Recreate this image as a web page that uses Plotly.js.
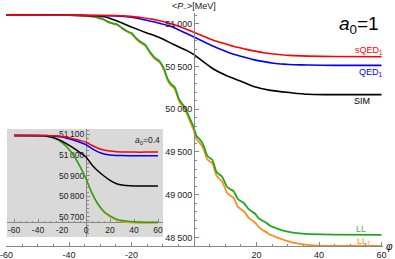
<!DOCTYPE html>
<html><head><meta charset="utf-8">
<script src="https://cdn.plot.ly/plotly-3.0.1.min.js"></script>
<style>html,body{margin:0;padding:0;background:#fff}#g{width:395px;height:259px}</style>
</head><body><div id="g"></div>
<script>
// ---- main plot (a0 = 1) ----
const llX = [-60,-40,-35,-32,-30.5,-29,-27.5,-26,-24.5,-23,-21.5,-20,-18.5,-17,-15.5,-14,-12.5,-11,-9.5,-8.5,-7.5,-6.2,-4.7,-3.5,-2.6,-1.2,-0.2,0.8,2.2,3.0,4.2,5.0,5.9,7.2,8.0,9.0,10.6,11.6,12.7,14.0,15.0,16.0,17.5,18.6,19.5,20.8,22.0,23.0,24.2,25.4,26.5,28,30,33,37,45,60];
const llY = [51100,51099,51094,51082,51068,51052,51022,51005,50990,50950,50915,50890,50830,50785,50750,50665,50600,50560,50465,50360,50300,50260,50110,50050,50000,49880,49800,49690,49630,49580,49460,49430,49405,49265,49240,49210,49090,49065,49040,48950,48925,48900,48830,48800,48780,48720,48695,48675,48640,48620,48605,48585,48568,48550,48540,48533,48531];
const ll1X = [-60,-40,-35,-32,-30.5,-29,-27.5,-26,-24.5,-23,-21.5,-20,-18.5,-17,-15.5,-14,-12.5,-11,-9.5,-8.5,-7.5,-6.2,-4.7,-3.5,-2.6,-1.2,-0.2,0.8,2.2,3.0,4.2,5.0,5.9,7.2,8.0,9.0,10.6,11.6,12.7,14.0,15.0,16.0,17.5,18.6,19.5,20.8,22.0,23.0,24.2,25.4,26.5,28,30,33,37,42,60];
const ll1Y = [51100,51099,51093,51080,51066,51049,51018,51000,50985,50944,50908,50882,50821,50775,50739,50653,50587,50546,50449,50343,50282,50240,50088,50025,49972,49850,49765,49650,49590,49540,49415,49390,49365,49225,49190,49155,49020,48990,48962,48860,48830,48805,48730,48700,48675,48620,48585,48565,48535,48518,48500,48482,48458,48430,48410,48402,48400];
const simX = [-60,-40,-32,-28,-24,-19.6,-15.3,-10.9,-6.7,-2.4,0,1.9,6.2,10.5,14.8,19.1,24.5,31,36.4,41.7,60];
const simY = [51100,51099,51092,51075,51022,50955,50895,50836,50760,50688,50638,50585,50470,50390,50329,50265,50220,50193,50174,50170,50170];
const sqedX = [-60,-40,-25,-21.7,-17,-13,-10,-6.7,-3,0,3,6,9.5,12.5,15.9,19,22.4,25.5,28.8,32,36.4,45,60];
const sqedY = [51100,51099,51095,51088,51072,51050,51025,50992,50945,50898,50853,50810,50770,50737,50708,50682,50661,50645,50633,50626,50621,50616,50614];
const qedX = [-60,-40,-25,-20,-16.4,-12,-7.7,-4,0,3,6,9.5,12.5,15.9,19,22.4,25.5,28.8,32,36.4,45,60];
const qedY = [51100,51099,51091,51075,51050,51015,50972,50912,50845,50792,50740,50686,50645,50610,50580,50556,50538,50527,50520,50516,50513,50512];
const mainYTicks = [48500,49000,49500,50000,50500,51000];
const mainXTicks = [-60,-40,-20,20,40,60];

// ---- inset (a0 = 0.4) ----
const inX = [-60,-40,-35,-30,-25,-20,-15,-10,-5,0,5,10,15,20,25,30,40,50,60];
const inLL  = [51095,51095,51093,51088,51078,51060,51033,50995,50945,50885,50815,50762,50726,50704,50690,50682,50676,50674,50674];
const inLL1 = [51095,51095,51093,51088,51078,51060,51033,50995,50945,50885,50813,50759,50722,50700,50685,50677,50671,50670,50670];
const inSIM = [51095,51094,51093,51088,51080,51067,51050,51032,51012,50990,50952,50922,50898,50877,50862,50854,50850,50849,50849];
const inSQED= [51095,51095,51095,51094,51093,51090,51085,51078,51071,51062,51046,51033,51024,51019,51016,51015,51014,51014,51014];
const inQED = [51095,51095,51095,51093,51091,51087,51080,51072,51062,51050,51031,51015,51005,51000,50998,50997,50996,50996,50996];
const inYTicks = [50700,50800,50900,51000,51100];
const inXTicks = [-60,-40,-20,0,20,40,60];

const thin = '\u2009';
const fmt = v => { const s = String(v); return s.slice(0, s.length-3) + thin + s.slice(-3); };
const neg = v => String(v);

const W = 395, H = 259, L = 6, R = 12, T = 13, B = 13;
const pw = W - L - R, ph = H - T - B;
const px = p => (p - L) / pw;
const py = p => (H - B - p) / ph;

const cGreen = '#1fa81f', cOrange = '#ff8c1a';
const font = 'Liberation Sans, Arial, sans-serif';

function tr(x, y, color, w, ax) {
  return {x: x, y: y, type: 'scatter', mode: 'lines', line: {color: color, width: w, shape: 'spline', smoothing: 0.5},
          xaxis: ax ? 'x2' : 'x', yaxis: ax ? 'y2' : 'y', hoverinfo: 'skip', showlegend: false};
}

const data = [
  tr(ll1X, ll1Y, cOrange, 1.8), tr(llX, llY, cGreen, 1.8),
  tr(simX, simY, '#000', 1.6), tr(qedX, qedY, '#0000ff', 1.6), tr(sqedX, sqedY, '#ff0000', 1.6),
  tr(inX, inLL1, cOrange, 1.5, 1), tr(inX, inLL, cGreen, 1.5, 1),
  tr(inX, inSIM, '#000', 1.5, 1), tr(inX, inQED, '#0000ff', 1.5, 1), tr(inX, inSQED, '#ff0000', 1.5, 1)
];

const tickfont = {family: font, size: 9, color: '#222'};
const inBoxL = 7, inBoxR = 163, inBoxT = 129, inBoxB = 237;
const inX0px = 86, inXs = 1.2;
const inXrange = [-(inX0px - inBoxL)/inXs, (inBoxR - inX0px)/inXs];
const inYs = 0.206, in51000px = 155;
const inYrange = [51000 - (inBoxB - in51000px)/inYs, 51000 + (in51000px - inBoxT)/inYs];
const inAxisPy = 222;

const layout = {
  width: W, height: H, margin: {l: L, r: R, t: T, b: B},
  paper_bgcolor: '#fff', plot_bgcolor: 'rgba(0,0,0,0)', showlegend: false,
  font: {family: font, size: 9, color: '#222'},
  xaxis: {range: [-60.16, 60.48], showgrid: false, zeroline: false, showline: true, linecolor: '#888', linewidth: 1,
          ticks: 'inside', ticklen: 4, tickcolor: '#888', tickvals: mainXTicks, ticktext: mainXTicks.map(neg), tickfont: tickfont,
          ticklabeloverflow: 'allow',
          minor: {dtick: 5, tick0: 0, ticks: 'inside', ticklen: 2, tickcolor: '#888'}, anchor: 'y', fixedrange: true},
  yaxis: {range: [48400, 51125], showgrid: false, zeroline: false, showline: true, linecolor: '#888', linewidth: 1,
          anchor: 'free', position: px(194), side: 'left',
          ticks: 'inside', ticklen: 4, tickcolor: '#888', tickvals: mainYTicks, ticktext: mainYTicks.map(fmt), tickfont: tickfont,
          minor: {dtick: 100, tick0: 0, ticks: 'inside', ticklen: 2, tickcolor: '#888'}, fixedrange: true},
  xaxis2: {domain: [px(inBoxL), px(inBoxR)], range: inXrange, showgrid: false, zeroline: false, showline: true,
           linecolor: '#888', linewidth: 1, anchor: 'free', position: py(inAxisPy), layer: 'below traces',
           ticks: 'inside', ticklen: 3, tickcolor: '#888', tickvals: inXTicks, ticktext: inXTicks.map(neg),
           tickfont: {family: font, size: 8.5, color: '#222'},
           minor: {dtick: 5, tick0: 0, ticks: 'inside', ticklen: 1.5, tickcolor: '#888'}, fixedrange: true},
  yaxis2: {domain: [py(inBoxB), py(inBoxT)], range: inYrange, showgrid: false, zeroline: false, showline: true,
           linecolor: '#888', linewidth: 1, anchor: 'free', position: px(inX0px), side: 'left', layer: 'below traces',
           ticks: 'inside', ticklen: 3, tickcolor: '#888', tickvals: inYTicks, ticktext: inYTicks.map(fmt),
           tickfont: {family: font, size: 8.5, color: '#222'},
           minor: {dtick: 20, tick0: 0, ticks: 'inside', ticklen: 1.5, tickcolor: '#888'}, fixedrange: true},
  shapes: [{type: 'rect', xref: 'x2', yref: 'y2', x0: inXrange[0], x1: inXrange[1], y0: inYrange[0], y1: inYrange[1],
            fillcolor: '#d9d9d9', line: {width: 0}, layer: 'below'}],
  annotations: [
    {text: '&lt;<i>P</i><sub>−</sub>&gt;[MeV]', x: px(194), y: py(6), xref: 'paper', yref: 'paper', showarrow: false,
     xanchor: 'center', yanchor: 'middle', font: {family: font, size: 9, color: '#222'}},
    {text: '<i>a</i><sub>0</sub>=1', x: px(381), y: py(25), xref: 'paper', yref: 'paper', showarrow: false,
     xanchor: 'right', yanchor: 'middle', font: {family: font, size: 19, color: '#000'}},
    {text: 'sQED<sub>1</sub>', x: px(385), y: py(50), xref: 'paper', yref: 'paper', showarrow: false,
     xanchor: 'right', yanchor: 'middle', font: {family: font, size: 9, color: '#ff0000'}},
    {text: 'QED<sub>1</sub>', x: px(385), y: py(72), xref: 'paper', yref: 'paper', showarrow: false,
     xanchor: 'right', yanchor: 'middle', font: {family: font, size: 9, color: '#0000ff'}},
    {text: 'SIM', x: px(372), y: py(101), xref: 'paper', yref: 'paper', showarrow: false,
     xanchor: 'right', yanchor: 'middle', font: {family: font, size: 9, color: '#000'}},
    {text: 'LL', x: px(368), y: py(229), xref: 'paper', yref: 'paper', showarrow: false,
     xanchor: 'right', yanchor: 'middle', font: {family: font, size: 9, color: '#3cbf3c'}},
    {text: 'LL<sub>1</sub>', x: px(373), y: py(241), xref: 'paper', yref: 'paper', showarrow: false,
     xanchor: 'right', yanchor: 'middle', font: {family: font, size: 9, color: cOrange}},
    {text: '<i>φ</i>', x: px(389), y: py(246), xref: 'paper', yref: 'paper', showarrow: false,
     xanchor: 'center', yanchor: 'middle', font: {family: font, size: 10, color: '#000'}},
    {text: '<i>a</i><sub>0</sub>=0.4', x: px(162), y: py(140), xref: 'paper', yref: 'paper', showarrow: false,
     xanchor: 'right', yanchor: 'middle', font: {family: font, size: 8.5, color: '#222'}}
  ]
};
Plotly.newPlot('g', data, layout, {staticPlot: true, displayModeBar: false});
</script></body></html>
